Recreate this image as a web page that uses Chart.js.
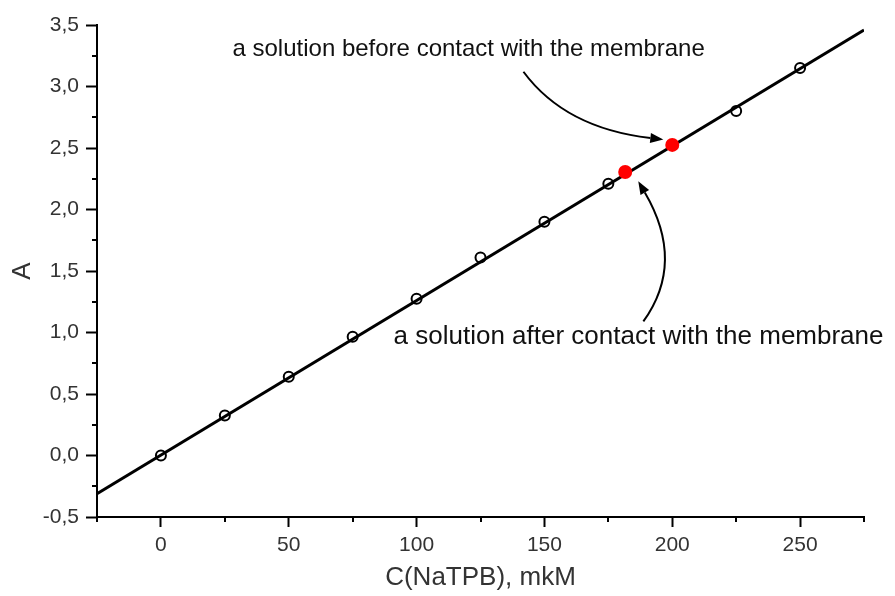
<!DOCTYPE html>
<html>
<head>
<meta charset="utf-8">
<script src="https://cdn.jsdelivr.net/npm/chart.js@4/dist/chart.umd.min.js"></script>
<style>
  html, body { margin: 0; padding: 0; background: #ffffff; }
  #wrap { width: 895px; height: 596px; position: relative; }
</style>
</head>
<body>
<div id="wrap"><canvas id="c" width="895" height="596"></canvas></div>
<script>
// ---- data ----
const concX = [0, 25, 50, 75, 100, 125, 150, 175, 225, 250];
const absY  = [0.00, 0.325, 0.64, 0.965, 1.275, 1.61, 1.90, 2.21, 2.80, 3.15];
const sampleX = [181.6, 200];
const sampleY = [2.305, 2.525];
const fitX = [-25, 275];
const fitY = [-0.31, 3.46];
const xTickLabels = [0, 50, 100, 150, 200, 250];
const yTickLabels = ['-0,5', '0,0', '0,5', '1,0', '1,5', '2,0', '2,5', '3,0', '3,5'];
const noteTexts = ['a solution before contact with the membrane', 'a solution after contact with the membrane'];
const noteAnchorX = [28, 91];
const noteAnchorY = [3.30, 0.965];
// arrows: start, control, end (data units)
const arrowStartX = [141.8, 188.7];
const arrowStartY = [3.12, 1.09];
const arrowCtrlX = [158.2, 205.3];
const arrowCtrlY = [2.66, 1.57];
const arrowEndX = [196.5, 186.7];
const arrowEndY = [2.57, 2.23];

// style
const noteFontSizes = [24, 26];
const fontFamily = '"Liberation Sans", Arial, sans-serif';

const toPts = (xs, ys) => xs.map((x, i) => ({x: x, y: ys[i]}));

const minorTicks = {
  id: 'minorTicks',
  afterDatasetsDraw(chart) {
    const ctx = chart.ctx;
    const xs = chart.scales.x, ys = chart.scales.y;
    ctx.save();
    ctx.strokeStyle = '#000';
    ctx.lineWidth = 2;
    ctx.beginPath();
    for (let v = -25; v <= 275; v += 50) {
      const px = Math.round(xs.getPixelForValue(v));
      ctx.moveTo(px, xs.top); ctx.lineTo(px, xs.top + 5);
    }
    for (let v = -0.25; v <= 3.5; v += 0.5) {
      const py = Math.round(ys.getPixelForValue(v));
      ctx.moveTo(ys.right, py); ctx.lineTo(ys.right - 5, py);
    }
    ctx.stroke();
    ctx.restore();
  }
};

const notes = {
  id: 'notes',
  afterDraw(chart) {
    const ctx = chart.ctx;
    const xs = chart.scales.x, ys = chart.scales.y;
    ctx.save();
    ctx.fillStyle = '#111';
    ctx.textAlign = 'left';
    ctx.textBaseline = 'middle';
    noteTexts.forEach((t, i) => {
      ctx.font = noteFontSizes[i] + 'px ' + fontFamily;
      ctx.fillText(t, xs.getPixelForValue(noteAnchorX[i]), ys.getPixelForValue(noteAnchorY[i]));
    });
    ctx.strokeStyle = '#000';
    ctx.lineWidth = 2;
    for (let i = 0; i < arrowStartX.length; i++) {
      const sx = xs.getPixelForValue(arrowStartX[i]), sy = ys.getPixelForValue(arrowStartY[i]);
      const cx = xs.getPixelForValue(arrowCtrlX[i]), cy = ys.getPixelForValue(arrowCtrlY[i]);
      const ex = xs.getPixelForValue(arrowEndX[i]), ey = ys.getPixelForValue(arrowEndY[i]);
      const ang = Math.atan2(ey - cy, ex - cx);
      const headLen = 13, headW = 5;
      const bx = ex - headLen * Math.cos(ang), by = ey - headLen * Math.sin(ang);
      ctx.beginPath();
      ctx.moveTo(sx, sy);
      ctx.quadraticCurveTo(cx, cy, bx, by);
      ctx.stroke();
      ctx.beginPath();
      ctx.moveTo(ex, ey);
      ctx.lineTo(bx + headW * Math.sin(ang), by - headW * Math.cos(ang));
      ctx.lineTo(bx - headW * Math.sin(ang), by + headW * Math.cos(ang));
      ctx.closePath();
      ctx.fillStyle = '#000';
      ctx.fill();
    }
    ctx.restore();
  }
};

const tickFont = { family: fontFamily, size: 21 };
const titleFont = { family: fontFamily, size: 26 };

new Chart(document.getElementById('c'), {
  type: 'scatter',
  data: {
    datasets: [
      {
        label: 'fit',
        type: 'line',
        data: toPts(fitX, fitY),
        borderColor: '#000',
        borderWidth: 3,
        pointRadius: 0,
        fill: false,
        order: 3
      },
      {
        label: 'calibration',
        data: toPts(concX, absY),
        pointStyle: 'circle',
        pointRadius: 5,
        pointBorderWidth: 2,
        borderColor: '#000',
        backgroundColor: 'rgba(0,0,0,0)',
        order: 2
      },
      {
        label: 'samples',
        data: toPts(sampleX, sampleY),
        pointRadius: 7,
        pointBorderWidth: 0,
        borderColor: '#ff0000',
        backgroundColor: '#ff0000',
        order: 1
      }
    ]
  },
  options: {
    responsive: false,
    animation: false,
    devicePixelRatio: 1,
    layout: { padding: { left: 0, right: 31, top: 25, bottom: 0 } },
    plugins: { legend: { display: false }, tooltip: { enabled: false } },
    scales: {
      x: {
        type: 'linear',
        min: -25, max: 275,
        afterBuildTicks(scale) { scale.ticks = xTickLabels.map(v => ({ value: v })); },
        afterFit(scale) { scale.height = 79; },
        border: { display: true, color: '#000', width: 2 },
        grid: { display: true, drawOnChartArea: false, drawTicks: true, tickLength: 10, tickWidth: 2, tickColor: '#000' },
        ticks: { color: '#333', font: tickFont, padding: 6, maxRotation: 0, autoSkip: false,
                 callback: (v) => String(v) },
        title: { display: true, text: 'C(NaTPB), mkM', color: '#333', font: titleFont, padding: { top: 0, bottom: 3 } }
      },
      y: {
        type: 'linear',
        min: -0.5, max: 3.5,
        afterBuildTicks(scale) { scale.ticks = yTickLabels.map((s, i) => ({ value: -0.5 + 0.5 * i })); },
        afterFit(scale) { scale.width = 97; },
        border: { display: true, color: '#000', width: 2 },
        grid: { display: true, drawOnChartArea: false, drawTicks: true, tickLength: 11, tickWidth: 2, tickColor: '#000' },
        ticks: { color: '#333', font: tickFont, padding: 7, autoSkip: false,
                 callback: (v) => { const i = Math.round((v + 0.5) / 0.5); return yTickLabels[i]; } },
        title: { display: true, text: 'A', color: '#333', font: titleFont, padding: { top: 7, bottom: 0 } }
      }
    }
  },
  plugins: [minorTicks, notes]
});
</script>
</body>
</html>
